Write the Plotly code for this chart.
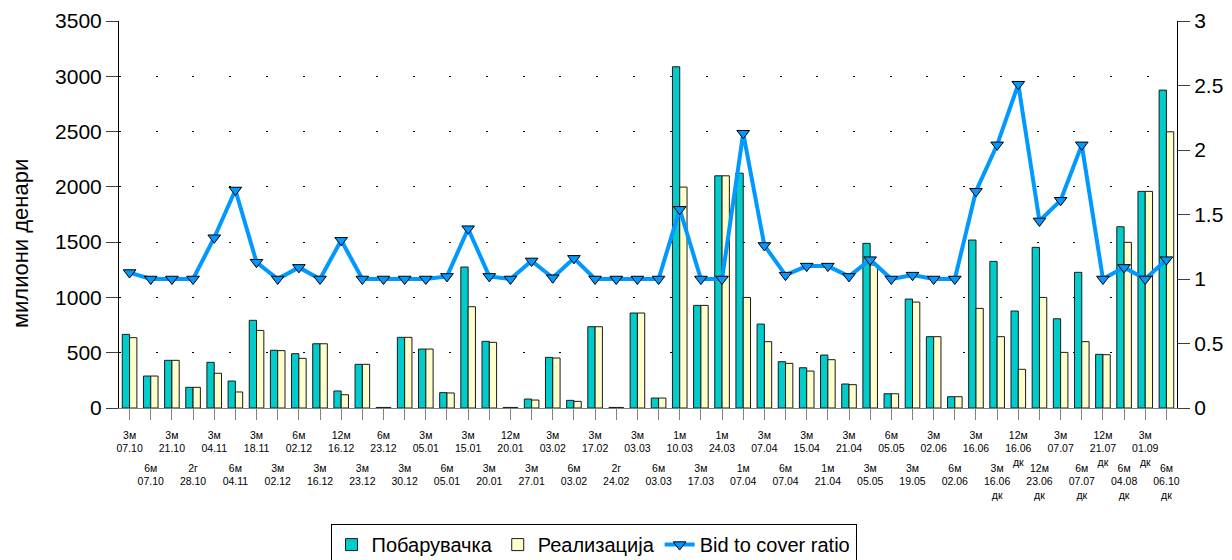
import plotly.graph_objects as go

categories = [
    "3м 07.10", "6м 07.10", "3м 21.10", "2г 28.10", "3м 04.11", "6м 04.11",
    "3м 18.11", "3м 02.12", "6м 02.12", "3м 16.12", "12м 16.12", "3м 23.12",
    "6м 23.12", "3м 30.12", "3м 05.01", "6м 05.01", "3м 15.01", "3м 20.01",
    "12м 20.01", "3м 27.01", "3м 03.02", "6м 03.02", "3м 17.02", "2г 24.02",
    "3м 03.03", "6м 03.03", "1м 10.03", "3м 17.03", "1м 24.03", "1м 07.04",
    "3м 07.04", "6м 07.04", "3м 15.04", "1м 21.04", "3м 21.04", "3м 05.05",
    "6м 05.05", "3м 19.05", "3м 02.06", "6м 02.06", "3м 16.06", "3м 16.06 дк",
    "12м 16.06 дк", "12м 23.06 дк", "3м 07.07", "6м 07.07 дк", "12м 21.07 дк",
    "6м 04.08 дк", "3м 01.09 дк", "6м 06.10 дк",
]

demand = [666, 289, 431, 187, 413, 244, 793, 522, 491, 581, 154, 395, 5, 639,
          533, 139, 1275, 603, 5, 81, 458, 69, 735, 5, 859, 90, 3086, 928,
          2100, 2124, 759, 419, 364, 479, 217, 1489, 129, 985, 645, 102, 1519,
          1326, 877, 1453, 807, 1227, 485, 1639, 1959, 2875]

realized = [636, 289, 431, 187, 314, 145, 702, 519, 449, 581, 120, 395, 5, 639,
            533, 136, 916, 594, 5, 72, 452, 60, 735, 5, 859, 90, 1998, 928,
            2100, 1000, 600, 404, 334, 437, 211, 1293, 129, 958, 645, 102, 901,
            645, 350, 1000, 503, 600, 482, 1498, 1959, 2498]

ratio = [1.05, 1.0, 1.0, 1.0, 1.32, 1.69, 1.13, 1.0, 1.09, 1.0, 1.30, 1.0, 1.0,
         1.0, 1.0, 1.02, 1.39, 1.02, 1.0, 1.14, 1.01, 1.16, 1.0, 1.0, 1.0, 1.0,
         1.54, 1.0, 1.0, 2.13, 1.26, 1.03, 1.10, 1.10, 1.02, 1.15, 1.0, 1.03,
         1.0, 1.0, 1.68, 2.04, 2.51, 1.45, 1.61, 2.04, 1.0, 1.09, 1.0, 1.15]

y_title = "милиони денари"

# staggered two-row tick labels: even-indexed on the upper row, odd on the lower
upper_text = []
lower_text = []
for i, c in enumerate(categories):
    lab = "<br>".join(c.split(" "))
    if i % 2 == 0:
        upper_text.append(lab)
        lower_text.append("")
    else:
        upper_text.append("")
        lower_text.append(lab)

FONT = "Liberation Sans, Arial, sans-serif"
xrange_ = [-0.5, len(categories) - 0.5]

fig = go.Figure()
fig.add_trace(go.Bar(
    x=categories, y=demand, name="Побарувачка",
    marker=dict(color="#00CCCC", line=dict(color="#1a1a1a", width=1)),
))
fig.add_trace(go.Bar(
    x=categories, y=realized, name="Реализација",
    marker=dict(color="#FFFFCC", line=dict(color="#1a1a1a", width=1)),
))
fig.add_trace(go.Scatter(
    x=categories, y=ratio, name="Bid to cover ratio", yaxis="y2",
    mode="lines+markers",
    line=dict(color="#0099FF", width=4),
    marker=dict(symbol="triangle-down", size=11, color="#0099FF",
                line=dict(color="#000000", width=1)),
))
# carrier (draws nothing) so the lower label row axis is rendered
fig.add_trace(go.Scatter(
    x=categories, y=ratio, xaxis="x2", yaxis="y2", mode="none",
    showlegend=False, hoverinfo="skip",
))

fig.update_layout(
    width=1232, height=560,
    margin=dict(l=119, r=55, t=21, b=152, autoexpand=False),
    paper_bgcolor="white", plot_bgcolor="white",
    font=dict(family=FONT, color="black"),
    barmode="group", bargap=0.31, bargroupgap=0,
    showlegend=True,
    legend=dict(
        orientation="h", x=0.4485, xanchor="center", y=-0.30, yanchor="top",
        bordercolor="black", borderwidth=1, font=dict(size=20, family=FONT),
        itemwidth=30, tracegroupgap=0,
    ),
    xaxis=dict(
        type="category", categoryorder="array", categoryarray=categories,
        range=xrange_,
        tickmode="array", tickvals=categories, ticktext=upper_text,
        tickangle=0, tickfont=dict(size=10.5, family=FONT),
        ticks="outside", ticklen=11, tickcolor="#808080",
        ticklabelstandoff=6,
        showline=True, linecolor="#808080", linewidth=1,
        showgrid=False, zeroline=False,
    ),
    xaxis2=dict(
        type="category", categoryorder="array", categoryarray=categories,
        range=xrange_, overlaying="x", side="bottom", anchor="y",
        tickmode="array", tickvals=categories, ticktext=lower_text,
        tickangle=0, tickfont=dict(size=10.5, family=FONT),
        ticks="outside", ticklen=44, tickcolor="rgba(0,0,0,0)",
        ticklabelstandoff=6,
        showline=False, showgrid=False, zeroline=False,
    ),
    yaxis=dict(
        range=[0, 3500], dtick=500, tickfont=dict(size=21, family=FONT),
        ticks="outside", ticklen=12, tickcolor="#404040",
        showline=True, linecolor="black", linewidth=1,
        showgrid=True, gridcolor="black", gridwidth=1, griddash="2px,34.7px",
        zeroline=False,
    ),
    yaxis2=dict(
        range=[0, 3], dtick=0.5, overlaying="y", side="right",
        tickfont=dict(size=21, family=FONT),
        ticks="outside", ticklen=12, tickcolor="#404040",
        showline=True, linecolor="black", linewidth=1,
        showgrid=False, zeroline=False,
    ),
    annotations=[dict(
        text=y_title, textangle=-90, xref="paper", yref="paper",
        x=-0.0936, y=0.426, xanchor="center", yanchor="middle",
        showarrow=False, font=dict(size=22, family=FONT),
    )],
)

fig.write_html(
    "out.html",
    config={"displayModeBar": False},
    post_script="document.body.style.margin='0';document.body.style.overflow='hidden';",
)
